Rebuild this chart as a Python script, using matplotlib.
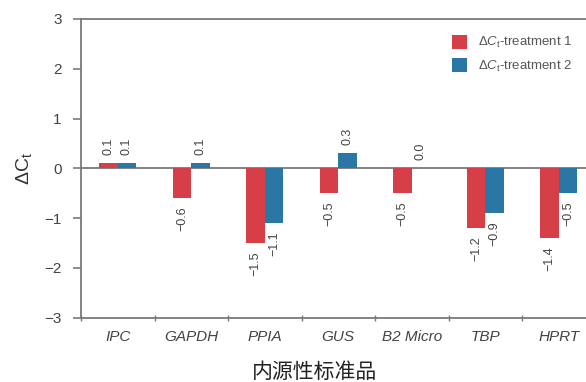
import matplotlib
matplotlib.use('Agg')
import matplotlib.pyplot as plt
import numpy as np
from matplotlib.ticker import FixedLocator

# Datos de ΔCt por gen de referencia
genes = ['IPC', 'GAPDH', 'PPIA', 'GUS', 'B2 Micro', 'TBP', 'HPRT']
treatment_1 = [0.1, -0.6, -1.5, -0.5, -0.5, -1.2, -1.4]
treatment_2 = [0.1, 0.1, -1.1, 0.3, 0.0, -0.9, -0.5]
series_labels = [r'$\Delta C_{\mathrm{t}}$-treatment 1', r'$\Delta C_{\mathrm{t}}$-treatment 2']
y_ticks = [-3, -2, -1, 0, 1, 2, 3]

red = '#d63e48'
blue = '#2a77a6'
axis_gray = '#7a7a7a'
text_gray = '#444444'

plt.rcParams['font.family'] = ['Liberation Sans', 'DejaVu Sans']
plt.rcParams['mathtext.fontset'] = 'custom'
plt.rcParams['mathtext.rm'] = 'Liberation Sans'
plt.rcParams['mathtext.it'] = 'Liberation Sans:italic'


def bar_labels(ax, xs, values):
    # Etiqueta girada encima o debajo de cada barra
    for x, v in zip(xs, values):
        if v >= 0:
            ax.annotate(f'{v:.1f}', (x, v), xytext=(0, 6), textcoords='offset points',
                        rotation=90, ha='center', va='bottom', fontsize=9, color=text_gray)
        else:
            ax.annotate(f'{v:.1f}'.replace('-', '\u2212'), (x, v), xytext=(0, -6),
                        textcoords='offset points', rotation=90, ha='center', va='top',
                        fontsize=9, color=text_gray)


fig = plt.figure(figsize=(5.86, 3.82), dpi=100)
ax = fig.add_axes([81 / 586, 1 - 317.5 / 382, 514.5 / 586, 298.5 / 382])

x = np.arange(len(genes))
width = 0.25
ax.axhline(0, color=axis_gray, lw=1.3, zorder=1)
ax.bar(x - width / 2, treatment_1, width, color=red, label=series_labels[0], zorder=2)
ax.bar(x + width / 2, treatment_2, width, color=blue, label=series_labels[1], zorder=2)
bar_labels(ax, x - width / 2, treatment_1)
bar_labels(ax, x + width / 2, treatment_2)

ax.set_xlim(-0.5, len(genes) - 0.5)
ax.set_ylim(-3, 3)
ax.set_yticks(y_ticks)
ax.set_yticklabels([str(t).replace('-', '\u2212') for t in y_ticks])
ax.set_xticks(x)
ax.set_xticklabels(genes, style='italic', fontsize=11, color=text_gray)
ax.xaxis.set_minor_locator(FixedLocator(np.arange(-0.5, len(genes), 1.0)))
ax.tick_params(axis='x', which='major', length=0, pad=9)
ax.tick_params(axis='x', which='minor', direction='inout', length=4, width=1, color=axis_gray)
ax.tick_params(axis='y', direction='out', length=6, width=1.2, color=axis_gray,
               labelsize=11, labelcolor=text_gray, pad=8)

for side in ['left', 'top', 'bottom']:
    ax.spines[side].set_color(axis_gray)
    ax.spines[side].set_linewidth(1.3)
ax.spines['right'].set_visible(False)

ax.set_ylabel(r'$\Delta\mathrm{C}_{\mathrm{t}}$', fontsize=14, color='#333333', labelpad=7)

leg = ax.legend(loc='upper left', bbox_to_anchor=(452 / 586, 1 - 35 / 382),
                bbox_transform=fig.transFigure, frameon=False, fontsize=9.5,
                borderpad=0, borderaxespad=0, handlelength=1.1, handleheight=1.2,
                handletextpad=0.9, labelspacing=0.6)
for t in leg.get_texts():
    t.set_color('#555555')

fig.text(315 / 586, 1 - 372 / 382, '内源性标准品', ha='center', va='center', fontsize=15,
         color='#222222', family=['Noto Sans CJK SC', 'DejaVu Sans'])

fig.savefig('out.png', dpi=100)
